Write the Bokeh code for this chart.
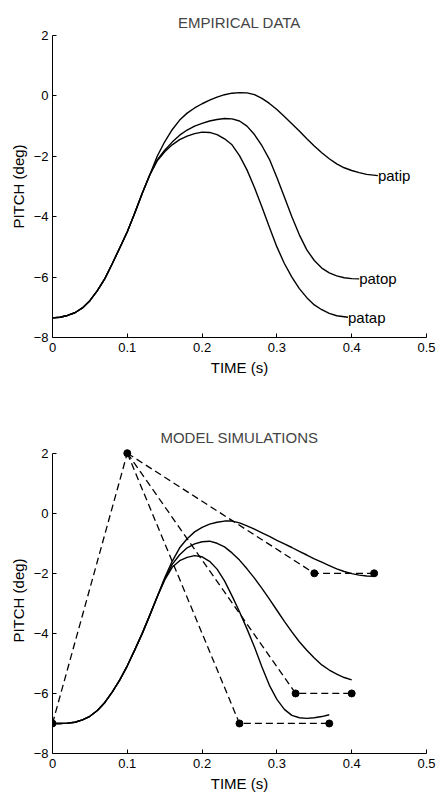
from bokeh.plotting import figure
from bokeh.models import Range1d, FixedTicker
from bokeh.layouts import column
from bokeh.embed import file_html
from bokeh.resources import INLINE
from bokeh.core.properties import value

FONT = "Liberation Sans"

# ---------------- data ----------------
x_ticks = [0, 0.1, 0.2, 0.3, 0.4, 0.5]
x_tick_labels = ["0", "0.1", "0.2", "0.3", "0.4", "0.5"]
y_ticks = [-8, -6, -4, -2, 0, 2]
y_tick_labels = ["\u22128", "\u22126", "\u22124", "\u22122", "0", "2"]

# Empirical data: shared rise
emp_rise_t = [0, 0.01, 0.02, 0.03, 0.04, 0.05, 0.06, 0.07, 0.08, 0.09, 0.10, 0.11, 0.12, 0.13]
emp_rise_y = [-7.35, -7.33, -7.27, -7.18, -7.02, -6.78, -6.45, -6.05, -5.55, -5.03, -4.5, -3.88, -3.22, -2.62]

patip_t = [0.14, 0.15, 0.16, 0.17, 0.18, 0.19, 0.20, 0.21, 0.22, 0.23, 0.24, 0.25, 0.26, 0.27, 0.28,
           0.29, 0.30, 0.31, 0.32, 0.33, 0.34, 0.35, 0.36, 0.37, 0.38, 0.39, 0.40, 0.41, 0.42, 0.435]
patip_y = [-2.0, -1.52, -1.12, -0.8, -0.57, -0.4, -0.26, -0.14, -0.04, 0.04, 0.09, 0.11, 0.1, 0.04, -0.08,
           -0.25, -0.45, -0.68, -0.92, -1.16, -1.42, -1.66, -1.88, -2.08, -2.25, -2.38, -2.47, -2.54, -2.6, -2.64]

patop_t = [0.14, 0.15, 0.16, 0.17, 0.18, 0.19, 0.20, 0.21, 0.22, 0.23, 0.24, 0.25, 0.26, 0.27, 0.28,
           0.29, 0.30, 0.31, 0.32, 0.33, 0.34, 0.35, 0.36, 0.37, 0.38, 0.39, 0.40, 0.41]
patop_y = [-2.12, -1.8, -1.53, -1.3, -1.13, -1.0, -0.91, -0.83, -0.78, -0.75, -0.76, -0.83, -1.0, -1.28, -1.65,
           -2.1, -2.7, -3.35, -4.0, -4.6, -5.1, -5.45, -5.7, -5.86, -5.96, -6.02, -6.05, -6.06]

patap_t = [0.14, 0.15, 0.16, 0.17, 0.18, 0.19, 0.20, 0.21, 0.22, 0.23, 0.24, 0.25, 0.26, 0.27, 0.28,
           0.29, 0.30, 0.31, 0.32, 0.33, 0.34, 0.35, 0.36, 0.37, 0.38, 0.395]
patap_y = [-2.15, -1.85, -1.62, -1.45, -1.33, -1.25, -1.2, -1.21, -1.28, -1.42, -1.62, -1.98, -2.45, -3.03, -3.68,
           -4.35, -5.0, -5.55, -6.0, -6.38, -6.68, -6.92, -7.08, -7.2, -7.28, -7.33]

emp_names = ["patip", "patop", "patap"]

# Model simulations: shared rise
sim_rise_t = [0, 0.01, 0.02, 0.03, 0.04, 0.05, 0.06, 0.07, 0.08, 0.09, 0.10, 0.11, 0.12, 0.13, 0.14]
sim_rise_y = [-7.0, -7.0, -6.99, -6.96, -6.88, -6.76, -6.57, -6.3, -5.95, -5.55, -5.08, -4.55, -4.0, -3.4, -2.78]

sim_upper_t = [0.15, 0.16, 0.17, 0.18, 0.19, 0.20, 0.21, 0.22, 0.23, 0.24, 0.25, 0.26, 0.27, 0.28, 0.29,
               0.30, 0.31, 0.32, 0.33, 0.34, 0.35, 0.36, 0.37, 0.38, 0.39, 0.40, 0.41, 0.42, 0.43]
sim_upper_y = [-2.15, -1.6, -1.15, -0.85, -0.62, -0.47, -0.36, -0.3, -0.26, -0.26, -0.32, -0.42, -0.53, -0.65, -0.77,
               -0.9, -1.02, -1.14, -1.27, -1.39, -1.52, -1.63, -1.74, -1.85, -1.94, -2.01, -2.06, -2.09, -2.1]

sim_mid_t = [0.15, 0.16, 0.17, 0.18, 0.19, 0.20, 0.21, 0.22, 0.23, 0.24, 0.25, 0.26, 0.27, 0.28, 0.29,
             0.30, 0.31, 0.32, 0.33, 0.34, 0.35, 0.36, 0.37, 0.38, 0.39, 0.40]
sim_mid_y = [-2.2, -1.7, -1.38, -1.15, -1.02, -0.95, -0.93, -1.0, -1.12, -1.32, -1.56, -1.85, -2.16, -2.5, -2.86,
             -3.23, -3.6, -3.95, -4.28, -4.56, -4.82, -5.05, -5.22, -5.36, -5.47, -5.55]

sim_low_t = [0.15, 0.16, 0.17, 0.18, 0.19, 0.20, 0.21, 0.22, 0.23, 0.24, 0.25, 0.26, 0.27, 0.28, 0.29,
             0.30, 0.31, 0.32, 0.33, 0.34, 0.35, 0.36, 0.37]
sim_low_y = [-2.22, -1.8, -1.58, -1.47, -1.41, -1.45, -1.6, -1.86, -2.25, -2.75, -3.28, -3.85, -4.45, -5.12, -5.73,
             -6.2, -6.53, -6.73, -6.81, -6.83, -6.81, -6.77, -6.71]

# Model control (dashed) trajectories
ctrl_rise_t = [0, 0.1]
ctrl_rise_y = [-7, 2]
ctrl_upper_t = [0.1, 0.35, 0.43]
ctrl_upper_y = [2, -2, -2]
ctrl_mid_t = [0.1, 0.325, 0.4]
ctrl_mid_y = [2, -6, -6]
ctrl_low_t = [0.1, 0.25, 0.37]
ctrl_low_y = [2, -7, -7]

# ---------------- styling helpers ----------------
LINE_W = 1.4


def style(p, title_text, title_standoff, title_offset):
    p.title.text = title_text
    p.title.text_font = FONT
    p.title.text_font_size = "15px"
    p.title.text_font_style = "normal"
    p.title.align = "center"
    p.title.standoff = title_standoff
    p.title.offset = title_offset
    p.outline_line_color = None
    p.background_fill_color = "white"
    p.border_fill_color = "white"
    p.xgrid.visible = False
    p.ygrid.visible = False
    for ax in (p.xaxis[0], p.yaxis[0]):
        ax.axis_line_color = "black"
        ax.axis_line_width = 1
        ax.major_tick_line_color = "black"
        ax.major_tick_in = 4
        ax.major_tick_out = 0
        ax.minor_tick_line_color = None
        ax.major_label_text_font = FONT
        ax.major_label_text_font_size = "13px"
        ax.major_label_text_color = "black"
        ax.axis_label_text_font = FONT
        ax.axis_label_text_font_size = "15px"
        ax.axis_label_text_font_style = "normal"
        ax.axis_label_text_color = "black"
        ax.axis_label_standoff = 4
    p.xaxis[0].ticker = FixedTicker(ticks=x_ticks)
    p.xaxis[0].major_label_overrides = dict(zip(x_ticks, x_tick_labels))
    p.yaxis[0].ticker = FixedTicker(ticks=y_ticks)
    p.yaxis[0].major_label_overrides = dict(zip(y_ticks, y_tick_labels))
    p.xaxis[0].major_label_standoff = 5
    p.yaxis[0].major_label_standoff = 4
    p.xaxis[0].axis_label = "TIME (s)"
    p.yaxis[0].axis_label = "PITCH (deg)"


# ---------------- top: empirical ----------------
p1 = figure(frame_width=374, frame_height=302,
            min_border_left=52, min_border_right=14, min_border_top=35, min_border_bottom=60,
            x_range=Range1d(0, 0.5), y_range=Range1d(-8, 2),
            output_backend="svg", toolbar_location=None)
style(p1, "EMPIRICAL DATA", 9, 4)

emp_tails = [(patip_t, patip_y), (patop_t, patop_y), (patap_t, patap_y)]
lab_x, lab_y = [], []
for tt, yy in emp_tails:
    xs = emp_rise_t + tt
    ys = emp_rise_y + yy
    p1.line(xs, ys, line_color="black", line_width=LINE_W)
    lab_x.append(xs[-1])
    lab_y.append(ys[-1])
p1.text(x=lab_x, y=lab_y, text=emp_names, text_font=value(FONT), text_font_size="15px",
        text_align="left", text_baseline="middle", text_color="black")

# ---------------- bottom: model ----------------
p2 = figure(frame_width=374, frame_height=306,
            min_border_left=52, min_border_right=14, min_border_top=50, min_border_bottom=41,
            x_range=Range1d(0, 0.5), y_range=Range1d(-8, 2.19),
            output_backend="svg", toolbar_location=None)
style(p2, "MODEL SIMULATIONS", 4, 0)
p2.yaxis[0].bounds = (-8, 2)

DASH = "7 4"
for tt, yy in [(ctrl_rise_t, ctrl_rise_y), (ctrl_upper_t, ctrl_upper_y),
               (ctrl_mid_t, ctrl_mid_y), (ctrl_low_t, ctrl_low_y)]:
    p2.line(tt, yy, line_color="black", line_width=1.3, line_dash=DASH)

for tt, yy in [(sim_upper_t, sim_upper_y), (sim_mid_t, sim_mid_y), (sim_low_t, sim_low_y)]:
    p2.line(sim_rise_t + tt, sim_rise_y + yy, line_color="black", line_width=LINE_W)

dot_t = ctrl_rise_t + ctrl_upper_t[1:] + ctrl_mid_t[1:] + ctrl_low_t[1:]
dot_y = ctrl_rise_y + ctrl_upper_y[1:] + ctrl_mid_y[1:] + ctrl_low_y[1:]
p2.scatter(dot_t, dot_y, size=7, fill_color="black", line_color="black")

layout = column(p1, p2, spacing=0)
open("out.html", "w").write(file_html(layout, INLINE))
